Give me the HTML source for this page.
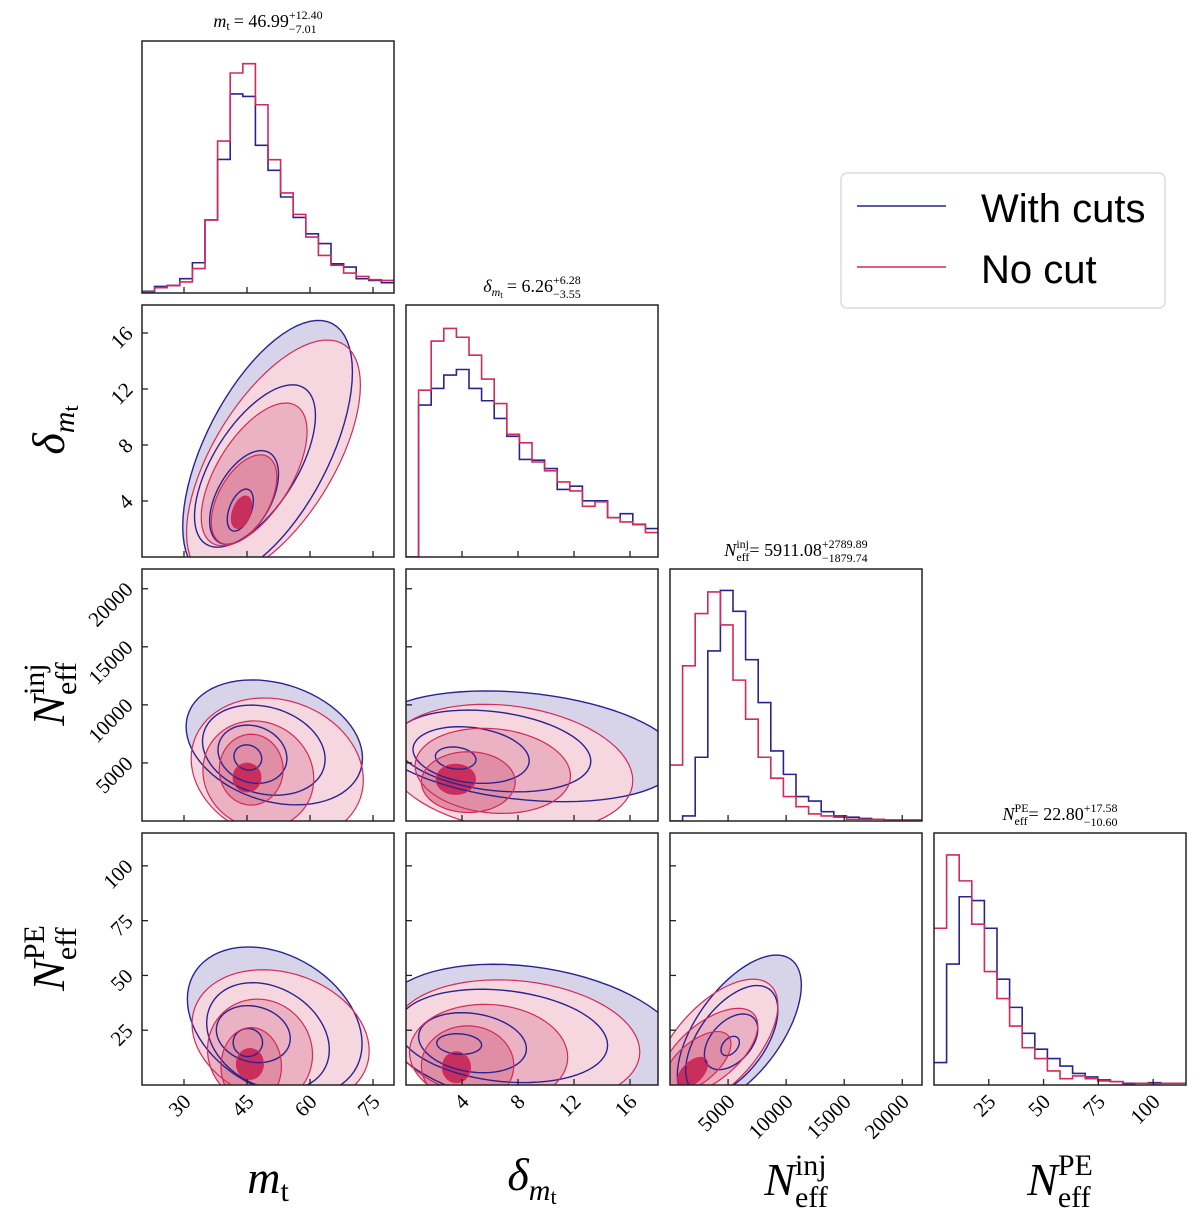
<!DOCTYPE html>
<html><head><meta charset="utf-8">
<style>
html,body{margin:0;padding:0;background:#fff;}
svg{display:block;}
</style></head>
<body>
<svg id="fig" width="1200" height="1228" viewBox="0 0 1200 1228" xmlns="http://www.w3.org/2000/svg">
<rect x="0" y="0" width="1200" height="1228" fill="#fff"/>
<g>
<rect x="841" y="173" width="324" height="135" rx="6" fill="#fff" stroke="#dcdcdc" stroke-width="1.5"/>
<line x1="857" y1="206" x2="946" y2="206" stroke="#2c2390" stroke-width="1.5"/>
<text x="981" y="222" font-family="Liberation Sans, sans-serif" font-size="40" fill="#000">With cuts</text>
<line x1="857" y1="267" x2="946" y2="267" stroke="#d22a5a" stroke-width="1.5"/>
<text x="981" y="283" font-family="Liberation Sans, sans-serif" font-size="40" fill="#000">No cut</text>
</g>
</svg>
<script>
// ---- data ----
const paramNames = ['mt','delta','inj','pe'];
const rangeMt = [20, 80];
const rangeDelta = [0, 18];
const rangeInj = [0, 21700];
const rangePE = [0, 115];
const ticksMt = [30, 45, 60, 75];
const ticksDelta = [4, 8, 12, 16];
const ticksInj = [5000, 10000, 15000, 20000];
const ticksPE = [25, 50, 75, 100];
const tickLabelsMt = ['30','45','60','75'];
const tickLabelsDelta = ['4','8','12','16'];
const tickLabelsInj = ['5000','10000','15000','20000'];
const tickLabelsPE = ['25','50','75','100'];

// histograms (20 bins, normalised heights)
const histMtBlue = [0.007,0.026,0.03,0.057,0.12,0.29,0.53,0.79,0.78,0.586,0.487,0.381,0.3,0.235,0.196,0.116,0.103,0.057,0.05,0.041];
const histMtRed  = [0.004,0.021,0.029,0.044,0.097,0.29,0.603,0.873,0.91,0.747,0.529,0.397,0.312,0.222,0.149,0.11,0.079,0.066,0.053,0.05];
const histDeltaBlue = [0,0.603,0.669,0.722,0.744,0.669,0.62,0.55,0.479,0.387,0.384,0.351,0.268,0.281,0.223,0.223,0.156,0.172,0.13,0.113];
const histDeltaRed  = [0,0.662,0.857,0.907,0.872,0.801,0.706,0.609,0.487,0.453,0.377,0.342,0.298,0.262,0.201,0.219,0.156,0.139,0.128,0.097];
const histInjBlue = [0,0.02,0.253,0.675,0.915,0.832,0.64,0.47,0.278,0.185,0.097,0.079,0.037,0.02,0.015,0.01,0.007,0.004,0.004,0.004];
const histInjRed  = [0.222,0.616,0.823,0.909,0.778,0.559,0.404,0.253,0.17,0.097,0.057,0.028,0.02,0.015,0.007,0.007,0.007,0.004,0.004,0.002];
const histPEBlue = [0.089,0.48,0.747,0.732,0.622,0.42,0.308,0.205,0.142,0.105,0.075,0.046,0.032,0.02,0.013,0.007,0.007,0.009,0.007,0.007];
const histPERed  = [0.622,0.913,0.81,0.638,0.45,0.343,0.234,0.148,0.105,0.056,0.025,0.036,0.025,0.016,0.013,0.003,0.007,0.006,0.007,0.007];

// contour levels (outer -> inner): [centerX, centerY, halfExtentX, halfExtentY, correlation]
const contMtDeltaBlue = [[49.9,7.7,20.2,9.2,0.6],[46.9,6.5,14.4,5.8,0.62],[44.3,4.25,8.2,3.35,0.5],[43.4,3.35,3.1,1.5,0.45]];
const contMtDeltaRed  = [[51.3,7.0,20.7,8.5,0.62],[46.7,5.9,12.6,5.1,0.6],[44.3,4.1,7.8,3.2,0.5],[43.7,3.2,2.4,1.15,0.4]];
const contMtInjBlue = [[51.5,6770,21,5380,-0.25],[49,6100,14.6,3880,-0.2],[46.3,5750,8.2,2510,-0.15],[45.2,5470,3.3,1085,-0.1]];
const contMtInjRed  = [[52.2,4450,20.5,6150,-0.15],[47.7,3990,13.2,4630,-0.08],[46,4420,7.6,3050,0],[45,3740,3.3,1230,0]];
const contDeltaInjBlue = [[8.5,6430,11,4770,-0.25],[6.2,6030,7,3520,-0.25],[4.65,5680,4.15,2440,-0.2],[3.55,5420,1.45,955,-0.15]];
const contDeltaInjRed  = [[7.4,4575,8.8,5475,-0.2],[6.2,4320,5.55,3665,-0.12],[4.45,3350,3.35,2615,0],[3.55,3590,1.4,1290,0]];
const contMtPEBlue = [[51.6,29,20.8,34,-0.3],[50,22.2,14.6,24.5,-0.25],[46.5,23.2,8.8,13,-0.15],[45.2,19.4,3.5,6.4,0]];
const contMtPERed  = [[53,21.7,21.1,30.9,-0.2],[48.1,15,12.5,24.2,-0.05],[46,8.5,7.2,17.7,0],[45.7,9.6,3.2,7,0]];
const contDeltaPEBlue = [[9,21.8,10.9,33.3,-0.25],[6.9,22.4,7.5,21.3,-0.2],[4.75,19.3,3.85,13.7,-0.2],[3.8,18.7,1.6,4.7,-0.1]];
const contDeltaPERed  = [[7.9,19.4,8.8,28.6,-0.15],[5.9,13.8,5.65,23,-0.05],[4.4,8.9,3.3,18.1,0],[3.6,8.1,1.0,7,0]];
const contInjPEBlue = [[5970,25,5340,34.3,0.6],[5320,20.4,3970,25,0.55],[5260,19.7,2300,12.7,0.45],[5180,17.8,790,4.4,0.4]];
const contInjPERed  = [[3950,18.4,5340,29.9,0.6],[3380,15.2,4180,19.8,0.6],[2365,10.5,2885,13.9,0.6],[1930,5.7,1300,6.9,0.55]];

// ---- layout / drawing ----
const NS = 'http://www.w3.org/2000/svg';
const svg = document.getElementById('fig');
const cols = [142, 406, 670, 934];
const rows = [41, 305, 569, 833];
const S = 252;
const ranges = [rangeMt, rangeDelta, rangeInj, rangePE];
const ticks = [ticksMt, ticksDelta, ticksInj, ticksPE];
const tickLabels = [tickLabelsMt, tickLabelsDelta, tickLabelsInj, tickLabelsPE];
const hists = [[histMtBlue, histMtRed],[histDeltaBlue, histDeltaRed],[histInjBlue, histInjRed],[histPEBlue, histPERed]];
const conts = {
  '0-1':[contMtDeltaBlue, contMtDeltaRed],
  '0-2':[contMtInjBlue, contMtInjRed],
  '1-2':[contDeltaInjBlue, contDeltaInjRed],
  '0-3':[contMtPEBlue, contMtPERed],
  '1-3':[contDeltaPEBlue, contDeltaPERed],
  '2-3':[contInjPEBlue, contInjPERed]
};
const BLUE = '#2c2390', RED = '#d22a5a';
const redFills = ['#f6d7e0', '#eab2c2', '#df8ea5', '#c92f5c'];
const blueFill = '#d7d4e9';
const SERIF = 'Liberation Serif, serif';

function xScale(i, v){ const r = ranges[i]; return cols[i] + S*(v - r[0])/(r[1]-r[0]); }
function yScale(j, v){ const r = ranges[j]; return rows[j] + S*(1 - (v - r[0])/(r[1]-r[0])); }
function histY(j, v){ return rows[j] + S*(1 - v/1.0); }

function mk(tag, attrs, parent){
  const e = document.createElementNS(NS, tag);
  for (const k in attrs) e.setAttribute(k, attrs[k]);
  (parent || svg).appendChild(e);
  return e;
}

const defs = mk('defs', {});

function ellipsePath(i, j, lv){
  const [cx, cy, ex, ey, rho] = lv;
  const q = Math.sqrt(1 - rho*rho);
  let d = '';
  for (let k = 0; k <= 72; k++){
    const t = 2*Math.PI*k/72;
    const vx = cx + ex*Math.cos(t);
    const vy = cy + ey*(rho*Math.cos(t) + q*Math.sin(t));
    d += (k ? 'L' : 'M') + xScale(i, vx).toFixed(2) + ',' + yScale(j, vy).toFixed(2);
  }
  return d + 'Z';
}

for (let j = 0; j < 4; j++){
  for (let i = 0; i <= j; i++){
    const px = cols[i], py = rows[j];
    const g = mk('g', {});
    
    
    const cp = mk('clipPath', {id: 'clip' + i + j}, defs);
    mk('rect', {x: px, y: py, width: S, height: S}, cp);
    const inner = mk('g', {'clip-path': 'url(#clip' + i + j + ')'}, g);
    if (i === j){
      const r = ranges[i];
      const n = hists[i][0].length;
      const bw = (r[1]-r[0])/n;
      ['blue','red'].forEach((ser, s) => {
        const vals = hists[i][s];
        let d = 'M' + xScale(i, r[0]) + ',' + histY(j, vals[0]);
        for (let b = 0; b < n; b++){
          d += 'V' + histY(j, vals[b]).toFixed(2) + 'H' + xScale(i, r[0] + (b+1)*bw).toFixed(2);
        }
        const p = mk('path', {d: d, fill: 'none', stroke: s ? RED : BLUE, 'stroke-width': 1.6}, inner);
        
        
      });
    } else {
      const [cb, cr] = conts[i + '-' + j];
      const f0 = mk('path', {d: ellipsePath(i, j, cb[0]), fill: blueFill, stroke: 'none'}, inner);
      
      
      cr.forEach((lv, k) => {
        const f = mk('path', {d: ellipsePath(i, j, lv), fill: redFills[k], stroke: 'none'}, inner);
        
        
      });
      cb.forEach((lv, k) => {
        const l = mk('path', {d: ellipsePath(i, j, lv), fill: 'none', stroke: BLUE, 'stroke-width': 1.4}, inner);
        
        
      });
      cr.forEach((lv, k) => {
        const l = mk('path', {d: ellipsePath(i, j, lv), fill: 'none', stroke: RED, 'stroke-width': 1.2}, inner);
        
        
      });
      ticks[j].forEach((t) => {
        const y = yScale(j, t);
        const tk = mk('line', {x1: px, x2: px+6, y1: y, y2: y, stroke: '#222', 'stroke-width': 1.3}, g);
        
        
      });
    }
    ticks[i].forEach((t) => {
      const x = xScale(i, t);
      const tk = mk('line', {x1: x, x2: x, y1: py+S, y2: py+S-6, stroke: '#222', 'stroke-width': 1.3}, g);
      
      
    });
    const fr = mk('rect', {x: px, y: py, width: S, height: S, fill: 'none', stroke: '#222', 'stroke-width': 1.5}, g);
    
    
  }
}

for (let i = 0; i < 4; i++){
  ticks[i].forEach((t, k) => {
    const x = xScale(i, t);
    const y = rows[3] + S + 12;
    const tl = mk('text', {x: 0, y: 0, 'font-family': SERIF, 'font-size': 21, 'text-anchor': 'end',
      transform: 'translate(' + (x+8) + ',' + (y+6) + ') rotate(-45)'});
    tl.textContent = tickLabels[i][k];
    
    
  });
}
for (let j = 1; j < 4; j++){
  ticks[j].forEach((t, k) => {
    const y = yScale(j, t);
    const tl = mk('text', {x: 0, y: 0, 'font-family': SERIF, 'font-size': 21, 'text-anchor': 'end',
      transform: 'translate(' + (cols[0]-8) + ',' + (y+2) + ') rotate(-45)'});
    tl.textContent = tickLabels[j][k];
    
    
  });
}

function mathText(cx, cy, pieces, rotate, name){
  const g = mk('g', {});
  
  
  let x = 0;
  pieces.forEach(p => {
    if (p.sup !== undefined){
      const a = mk('text', {x: x, y: p.up, 'font-family': SERIF, 'font-size': p.fs}, g);
      a.textContent = p.sup;
      const b = mk('text', {x: x, y: p.down, 'font-family': SERIF, 'font-size': p.fs}, g);
      b.textContent = p.sub;
      x += Math.max(a.getComputedTextLength(), b.getComputedTextLength());
    } else {
      const t = mk('text', {x: x, y: p.dy || 0, 'font-family': SERIF, 'font-size': p.fs,
        'font-style': p.it ? 'italic' : 'normal'}, g);
      t.textContent = p.t;
      x += t.getComputedTextLength() + (p.gap || 0);
    }
  });
  if (rotate) g.setAttribute('transform', 'translate(' + cx + ',' + cy + ') rotate(-90) translate(' + (-x/2) + ',0)');
  else g.setAttribute('transform', 'translate(' + (cx - x/2) + ',' + cy + ')');
  return g;
}

mathText(268, 27, [{t:'m', it:true, fs:18},{t:'t', fs:12, dy:3, gap:4},{t:'= 46.99', fs:18},{sup:'+12.40', sub:'\u22127.01', fs:12, up:-8, down:6}], false, 'title-mt');
mathText(532, 292, [{t:'\u03B4', it:true, fs:18},{t:'m', it:true, fs:12, dy:4},{t:'t', fs:9, dy:6, gap:4},{t:'= 6.26', fs:18},{sup:'+6.28', sub:'\u22123.55', fs:12, up:-8, down:6}], false, 'title-delta');
mathText(796, 556, [{t:'N', it:true, fs:18},{sup:'inj', sub:'eff', fs:12, up:-8, down:5},{t:' = 5911.08', fs:18},{sup:'+2789.89', sub:'\u22121879.74', fs:12, up:-8, down:6}], false, 'title-neff-inj');
mathText(1060, 820, [{t:'N', it:true, fs:18},{sup:'PE', sub:'eff', fs:12, up:-8, down:5},{t:' = 22.80', fs:18},{sup:'+17.58', sub:'\u221210.60', fs:12, up:-8, down:6}], false, 'title-neff-pe');

mathText(268, 1193, [{t:'m', it:true, fs:46},{t:'t', fs:30, dy:8}], false, 'x-axis-title-mt');
mathText(532, 1190, [{t:'\u03B4', it:true, fs:46},{t:'m', it:true, fs:30, dy:10},{t:'t', fs:22, dy:14}], false, 'x-axis-title-delta');
mathText(796, 1195, [{t:'N', it:true, fs:46},{sup:'inj', sub:'eff', fs:30, up:-20, down:12}], false, 'x-axis-title-neff-inj');
mathText(1060, 1195, [{t:'N', it:true, fs:46},{sup:'PE', sub:'eff', fs:30, up:-20, down:12}], false, 'x-axis-title-neff-pe');
mathText(64, 430, [{t:'\u03B4', it:true, fs:46},{t:'m', it:true, fs:30, dy:10},{t:'t', fs:22, dy:14}], true, 'y-axis-title-delta');
mathText(64, 694, [{t:'N', it:true, fs:46},{sup:'inj', sub:'eff', fs:30, up:-20, down:12}], true, 'y-axis-title-neff-inj');
mathText(64, 958, [{t:'N', it:true, fs:46},{sup:'PE', sub:'eff', fs:30, up:-20, down:12}], true, 'y-axis-title-neff-pe');
</script>
</body></html>
